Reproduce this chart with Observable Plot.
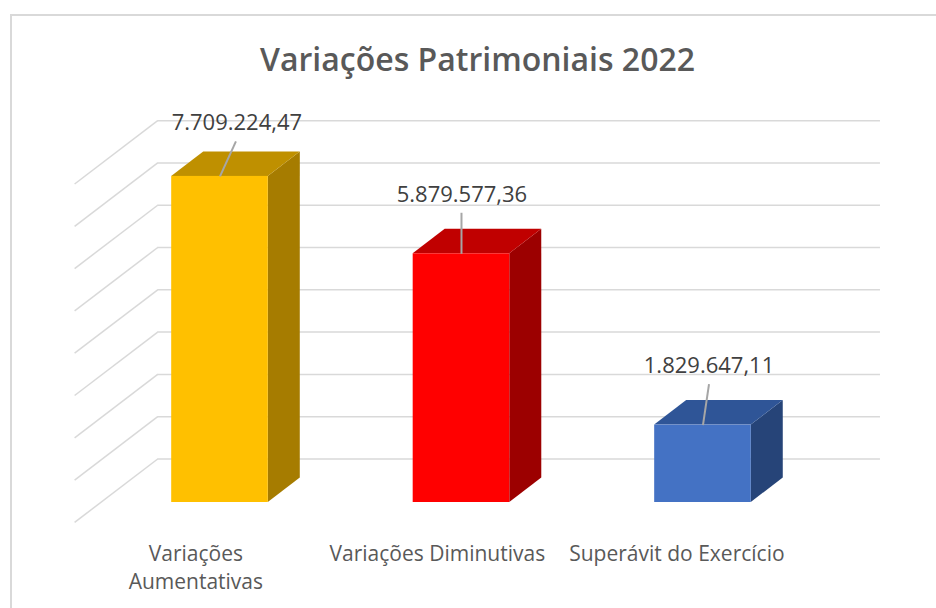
<!DOCTYPE html>
<html lang="pt">
<head>
<meta charset="utf-8">
<script src="https://cdn.jsdelivr.net/npm/d3@7"></script>
<script src="https://cdn.jsdelivr.net/npm/@observablehq/plot@0.6"></script>
<style>
  html, body { margin: 0; padding: 0; background: #fff; overflow: hidden; }
  #frame { position: absolute; left: 10px; top: 14px; width: 940px; height: 610px;
           border-left: 2px solid #d9d9d9; border-top: 2px solid #d9d9d9; }
  #chart { position: absolute; left: 0; top: 0; }
  #chart svg { display: block; background: transparent; }
</style>
</head>
<body>
<div id="frame"></div>
<div id="chart"></div>
<script>
const chartTitle = "Variações Patrimoniais 2022";
const categories = ["Variações\nAumentativas", "Variações Diminutivas", "Superávit do Exercício"];
const values = [7709224.47, 5879577.36, 1829647.11];
const valueLabels = ["7.709.224,47", "5.879.577,36", "1.829.647,11"];
const gridTicks = [0, 1e6, 2e6, 3e6, 4e6, 5e6, 6e6, 7e6, 8e6];

const frontColors = ["#ffc000", "#ff0000", "#4472c4"];
const topColors = ["#bf9000", "#c00000", "#2f5597"];
const sideColors = ["#a67c00", "#9c0000", "#264478"];

// Oblique projection, in scale units (one x unit = one category, y unit = currency).
const barHalf = 0.2, barDepthX = 0.1325, barDepthY = 580000;
const floorFrontX = -0.602, floorBackX = -0.258, floorFrontY = -470000, floorBackY = 1028000, wallEndX = 2.735;
const categoryLabelShifts = [-0.1, -0.1, -0.108], categoryLabelY = -905000;
// Leader end and label centre, relative to the middle of each bar's front top edge.
const leaderEnds = [[0.066, 830000], [0, 970000], [0.025, 970000]];
const labelShifts = [[0.07, 1270000], [0.002, 1380000], [0.025, 1400000]];

const idx = d3.range(values.length);
const font = "'Open Sans', 'Noto Sans', sans-serif";

const faces = idx.flatMap(i => {
  const v = values[i], L = i - barHalf, R = i + barHalf, dx = barDepthX, dy = barDepthY;
  const side = [
    {x: R, y1: 0, y2: v},
    {x: R + dx, y1: dy, y2: v + dy}
  ];
  const top = [
    {x: L, y1: v, y2: v},
    {x: L + dx, y1: v, y2: v + dy},
    {x: R, y1: v, y2: v + dy},
    {x: R + dx, y1: v + dy, y2: v + dy}
  ];
  return [
    Plot.area(side, {x1: "x", y1: "y1", y2: "y2", fill: sideColors[i]}),
    Plot.area(top, {x1: "x", y1: "y1", y2: "y2", fill: topColors[i]})
  ];
});

const plot = Plot.plot({
  width: 936,
  height: 608,
  margin: 0,
  x: {type: "linear", domain: [-0.9089, 2.967], axis: null},
  y: {type: "linear", domain: [-2506000, 11868000], axis: null},
  style: {background: "transparent"},
  marks: [
    Plot.ruleY(gridTicks, {y: d => d + floorBackY, x1: floorBackX, x2: wallEndX, stroke: "#d9d9d9", strokeWidth: 1.5}),
    Plot.link(gridTicks, {
      x1: floorFrontX, x2: floorBackX,
      y1: d => d + floorFrontY, y2: d => d + floorBackY,
      stroke: "#d9d9d9", strokeWidth: 1.5
    }),
    ...faces,
    Plot.rect(idx, {
      x1: i => i - barHalf, x2: i => i + barHalf,
      y1: 0, y2: i => values[i],
      fill: i => frontColors[i]
    }),
    Plot.link(idx, {
      x1: i => i, y1: i => values[i],
      x2: i => i + leaderEnds[i][0], y2: i => values[i] + leaderEnds[i][1],
      stroke: "#a6a6a6", strokeWidth: 2
    }),
    Plot.text(idx, {
      x: i => i + labelShifts[i][0], y: i => values[i] + labelShifts[i][1],
      text: i => valueLabels[i],
      fill: "#404040", fontSize: 22, fontFamily: font, textAnchor: "middle", lineAnchor: "middle"
    }),
    Plot.text(idx, {
      x: i => i + categoryLabelShifts[i], y: categoryLabelY,
      text: i => categories[i],
      fill: "#595959", fontSize: 21, fontFamily: font, textAnchor: "middle", lineAnchor: "top", lineHeight: 1.33
    }),
    Plot.text([chartTitle], {
      frameAnchor: "top", dx: 9, dy: 48,
      text: d => d, fill: "#595959", fontSize: 32, fontWeight: 600, fontFamily: font, textAnchor: "middle", lineAnchor: "top"
    })
  ]
});
document.getElementById("chart").appendChild(plot);
</script>
</body>
</html>
